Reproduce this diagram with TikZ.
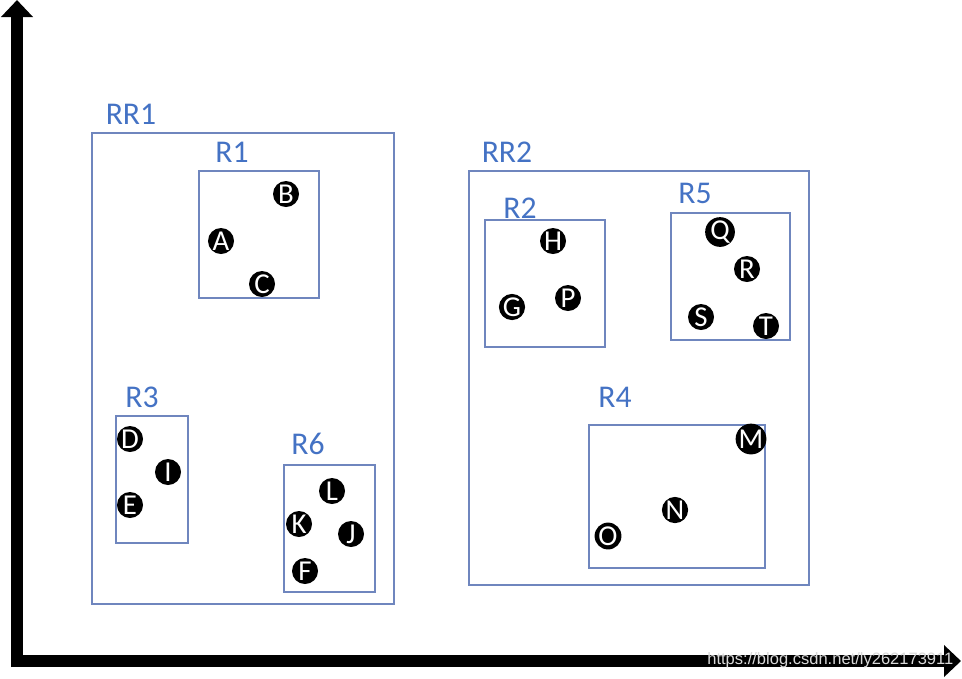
\documentclass[tikz,border=0pt]{standalone}
\usepackage{fontspec}
\setmainfont{Carlito}
\newfontfamily\wmfont{Liberation Sans}
\usetikzlibrary{arrows.meta}
\definecolor{RtBlue}{HTML}{4472C4}
\definecolor{RtEdge}{HTML}{6F86BE}
\tikzset{
  axis/.style={line width=0.12cm,-{Triangle[length=0.17cm,width=0.31cm]}},
  region/.style={draw=RtEdge,line width=0.3pt},
  rlabel/.style={text=RtBlue,font=\fontsize{9}{9}\selectfont,inner sep=0pt},
  pt/.style={circle,fill=black,text=white,minimum size=0.26cm,inner sep=0pt,
    font=\fontsize{8.2}{8.2}\selectfont}
}
\begin{document}
\begin{tikzpicture}[x=0.01cm,y=-0.01cm]
  \useasboundingbox (0,0) rectangle (962,678);
  % axes
  \coordinate (o) at (17,667);
  \coordinate (ytip) at (17,0);
  \coordinate (xo) at (11,661);
  \coordinate (xtip) at (961,661);
  \draw[axis] (o) -- (ytip);
  \draw[axis] (xo) -- (xtip);
  \node[text=black!15,font=\wmfont\fontsize{4.7}{4.7}\selectfont,anchor=east,inner sep=0pt]
    (wm) at (954,660) {https://blog.csdn.net/ly262173911};

  % outer regions
  \draw[region] (92,133) rectangle (394,604);
  \node[rlabel] (RR1) at (131,114) {RR1};
  \draw[region] (469,171) rectangle (809,585);
  \node[rlabel] (RR2) at (507,152) {RR2};

  % inner regions
  \draw[region] (199,171) rectangle (319,298);
  \node[rlabel] (R1) at (232,152) {R1};
  \draw[region] (116,416) rectangle (188,543);
  \node[rlabel] (R3) at (142,397) {R3};
  \draw[region] (284,465) rectangle (375,592);
  \node[rlabel] (R6) at (308,444) {R6};
  \draw[region] (485,220) rectangle (605,347);
  \node[rlabel] (R2) at (520,208) {R2};
  \draw[region] (671,213) rectangle (790,340);
  \node[rlabel] (R5) at (695,193) {R5};
  \draw[region] (589,425) rectangle (765,568);
  \node[rlabel] (R4) at (615,397) {R4};

  % points
  \node[pt] (A) at (221,241) {A};
  \node[pt] (B) at (286,194) {B};
  \node[pt] (C) at (262,284) {C};
  \node[pt] (D) at (130,439) {D};
  \node[pt] (I) at (168,472) {I};
  \node[pt] (E) at (130,505) {E};
  \node[pt] (L) at (332,491) {L};
  \node[pt] (K) at (299,524) {K};
  \node[pt] (J) at (351,534) {J};
  \node[pt] (F) at (305,571) {F};
  \node[pt] (H) at (553,241) {H};
  \node[pt] (G) at (512,307) {G};
  \node[pt] (P) at (568,298) {P};
  \node[pt] (Q) at (720,232) {Q};
  \node[pt] (R) at (747,269) {R};
  \node[pt] (S) at (701,317) {S};
  \node[pt] (T) at (766,326) {T};
  \node[pt] (M) at (751,439) {M};
  \node[pt] (N) at (675,510) {N};
  \node[pt] (O) at (608,536) {O};
\end{tikzpicture}
\end{document}
